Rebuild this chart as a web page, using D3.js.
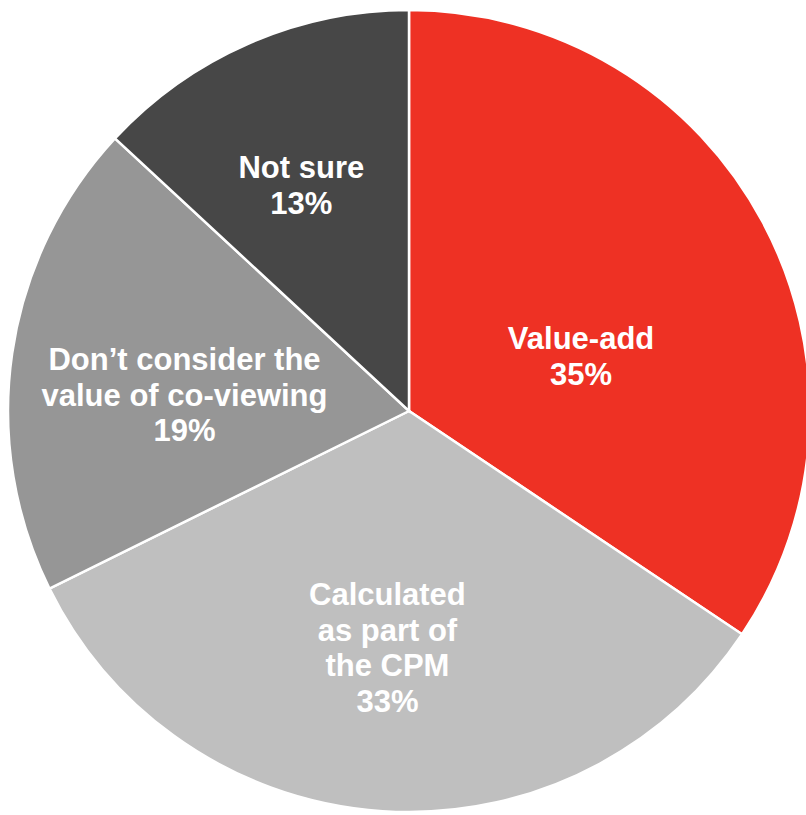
<!DOCTYPE html>
<html lang="en">
<head>
<meta charset="UTF-8">
<title>Co-viewing pie</title>
<script src="https://cdn.jsdelivr.net/npm/d3@7"></script>
<style>
    body { margin: 0; background: #fff; }
    text { font-family: "Liberation Sans", Arial, sans-serif; font-weight: bold; fill: #fff; }
</style>
</head>
<body>
<div id="chart"></div>
<script>
    // slice shares as measured from the slice angles, labels as printed
    const categories = [
        ["Value-add"],
        ["Calculated", "as part of", "the CPM"],
        ["Don\u2019t consider the", "value of co-viewing"],
        ["Not sure"]
    ];
    const shares = [34.4, 33.3, 19.2, 13.1];
    const pctLabels = ["35%", "33%", "19%", "13%"];
    const colors = ["#EE3124", "#BFBFBF", "#969696", "#474747"];

    // where each label sits: fraction of radius, and angle nudge (deg) from slice middle
    const labelPlace = [
        { k: 0.443, nudge: 13.7 },
        { k: 0.62, nudge: 1.2 },
        { k: 0.56, nudge: -7 },
        { k: 0.60, nudge: -3 }
    ];

    const width = 806, height = 815;
    const cx = 409, cy = 411, radius = 401;
    const fontSize = 31, lineH = 35.5;

    const data = shares.map((v, i) => ({ value: v, lines: categories[i].concat([pctLabels[i]]), i: i }));

    const svg = d3.select("#chart").append("svg")
        .attr("width", width)
        .attr("height", height);

    const g = svg.append("g").attr("transform", `translate(${cx},${cy})`);

    const pie = d3.pie().sort(null).value(d => d.value);
    const arc = d3.arc().innerRadius(0).outerRadius(radius);
    const arcs = pie(data);

    g.selectAll("path")
        .data(arcs)
        .enter()
        .append("path")
        .attr("d", arc)
        .attr("fill", d => colors[d.data.i])
        .attr("stroke", "#fff")
        .attr("stroke-width", 2.5)
        .attr("stroke-linejoin", "miter");

    const labels = g.selectAll("text.lbl")
        .data(arcs)
        .enter()
        .append("text")
        .attr("class", "lbl")
        .attr("text-anchor", "middle")
        .style("font-size", fontSize + "px")
        .attr("transform", d => {
            const p = labelPlace[d.data.i];
            const a = (d.startAngle + d.endAngle) / 2 + p.nudge * Math.PI / 180;
            const r = radius * p.k;
            return `translate(${r * Math.sin(a)},${-r * Math.cos(a)})`;
        });

    labels.each(function (d) {
        const n = d.data.lines.length;
        d3.select(this).selectAll("tspan")
            .data(d.data.lines)
            .enter()
            .append("tspan")
            .attr("x", 0)
            .attr("y", (t, j) => (j - (n - 1) / 2) * lineH)
            .text(t => t);
    });
</script>
</body>
</html>
